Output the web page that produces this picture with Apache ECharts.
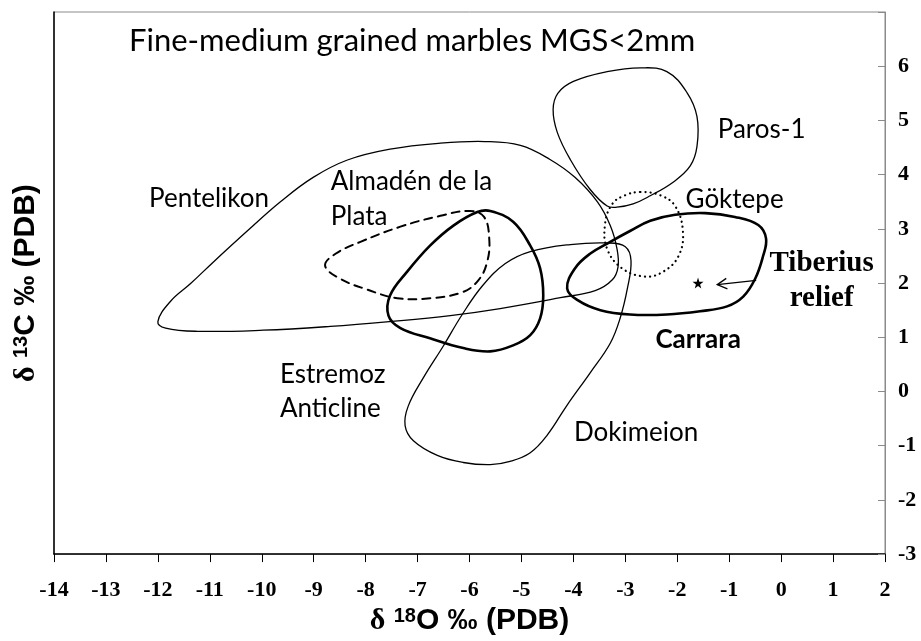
<!DOCTYPE html>
<html>
<head>
<meta charset="utf-8">
<title>Fine-medium grained marbles</title>
<script src="https://cdn.jsdelivr.net/npm/echarts@6/dist/echarts.min.js"></script>
<style>
  html, body { margin: 0; background: #fff; }
  #chart { width: 921px; height: 641px; }
</style>
</head>
<body>
<div id="chart"></div>
<script>
// isotope fields, [δ18O, δ13C] points round each outline
const pentelikon = [[-12.0,1.29],[-11.76,1.66],[-11.37,1.99],[-10.93,2.39],[-10.28,2.96],[-9.64,3.5],[-9.01,3.95],[-8.35,4.27],[-7.53,4.47],[-6.56,4.58],[-5.7,4.61],[-5.02,4.54],[-4.45,4.28],[-3.97,3.95],[-3.54,3.5],[-3.29,3.06],[-3.16,2.63],[-3.14,2.3],[-3.25,2.06],[-3.58,1.86],[-4.25,1.73],[-5.41,1.53],[-6.37,1.4],[-7.53,1.29],[-8.68,1.2],[-9.97,1.13],[-11.24,1.11],[-11.85,1.17]]
const paros = [[-4.0,5.72],[-3.35,5.9],[-2.71,5.97],[-2.2,5.9],[-1.81,5.51],[-1.62,5.07],[-1.62,4.52],[-1.75,4.16],[-2.08,3.86],[-2.52,3.61],[-2.85,3.46],[-3.16,3.4],[-3.35,3.42],[-3.68,3.73],[-4.06,4.28],[-4.31,4.78],[-4.39,5.2],[-4.3,5.5]]
const goktepe = [[-2.71,3.68],[-2.33,3.62],[-2.04,3.42],[-1.89,2.94],[-1.98,2.49],[-2.27,2.21],[-2.62,2.12],[-3.06,2.27],[-3.35,2.63],[-3.39,3.09],[-3.25,3.46],[-3.0,3.62]]
const carrara = [[-4.12,1.9],[-3.97,2.27],[-3.68,2.54],[-3.29,2.76],[-2.91,2.96],[-2.52,3.15],[-2.04,3.26],[-1.46,3.29],[-0.89,3.22],[-0.44,3.07],[-0.29,2.82],[-0.35,2.49],[-0.5,2.08],[-0.73,1.75],[-1.04,1.57],[-1.56,1.48],[-2.2,1.42],[-2.91,1.42],[-3.48,1.5],[-3.91,1.68]]
const estremoz = [[-5.6,3.33],[-5.16,3.13],[-4.83,2.69],[-4.64,2.27],[-4.58,1.77],[-4.64,1.35],[-4.83,1.04],[-5.16,0.85],[-5.6,0.74],[-6.12,0.8],[-6.76,0.98],[-7.33,1.17],[-7.56,1.4],[-7.53,1.77],[-7.2,2.21],[-6.76,2.69],[-6.31,3.06],[-5.85,3.31]]
const almaden = [[-8.78,2.32],[-8.58,2.54],[-8.1,2.76],[-7.33,3.04],[-6.56,3.24],[-5.99,3.33],[-5.72,3.22],[-5.62,2.82],[-5.66,2.39],[-5.83,2.05],[-6.14,1.83],[-6.76,1.72],[-7.39,1.72],[-7.97,1.88],[-8.49,2.08]]
const dokimeion = [[-3.35,2.74],[-3.0,2.67],[-2.89,2.41],[-2.96,1.9],[-3.1,1.35],[-3.29,0.89],[-3.68,0.34],[-4.12,-0.25],[-4.5,-0.8],[-4.83,-1.13],[-5.22,-1.29],[-5.6,-1.35],[-6.12,-1.31],[-6.62,-1.18],[-7.08,-0.91],[-7.24,-0.63],[-7.18,-0.27],[-6.89,0.25],[-6.51,0.83],[-6.14,1.42],[-5.75,1.95],[-5.31,2.36],[-4.83,2.58],[-4.06,2.71]]

// Tiberius relief sample and its pointer (tail, head)
const tiberius = [[-1.6, 2.0]]
const tiberiusArrow = [[-0.48, 2.05], [-1.23, 1.97]]

// field names: [x, y, text]
const fieldLabels = [
  [-12.18, 3.55, 'Pentelikon'],
  [-8.68, 3.88, 'Almadén de la'],
  [-8.68, 3.22, 'Plata'],
  [-1.23, 4.83, 'Paros-1'],
  [-1.85, 3.53, 'Göktepe'],
  [-9.66, 0.32, 'Estremoz'],
  [-9.66, -0.32, 'Anticline'],
  [-4.0, -0.76, 'Dokimeion'],
]
const boldLabels = [[-2.43, 0.96, 'Carrara']]
const serifLabels = [[0.78, 2.36, 'Tiberius'], [0.78, 1.72, 'relief']]

const xMin = -14, xMax = 2
const yMin = -3, yMax = 7

const chart = echarts.init(document.getElementById('chart'))

function outline(name, pts, width, dash) {
  return {
    name,
    type: 'custom',
    yAxisIndex: 1,
    silent: true,
    data: pts,
    encode: { x: 0, y: 1 },
    renderItem: (params, api) => {
      if (params.dataIndex !== 0) return
      return {
        type: 'polygon',
        shape: { points: pts.map((p) => api.coord(p)), smooth: 0.4 },
        style: { fill: null, stroke: '#000', lineWidth: width, lineDash: dash || null, lineCap: 'round' },
      }
    },
  }
}

function labelSeries(list, textStyle) {
  return {
    type: 'scatter',
    yAxisIndex: 1,
    silent: true,
    symbolSize: 1,
    itemStyle: { color: 'rgba(0,0,0,0)', opacity: 1 },
    data: list.map((d) => ({ name: d[2], value: [d[0], d[1]] })),
    label: Object.assign(
      { show: true, position: 'right', distance: 0, formatter: '{b}', color: '#000', opacity: 1, textBorderWidth: 0 },
      textStyle
    ),
  }
}

const sansTitle = { fontFamily: 'Liberation Sans', fontWeight: 'bold', fontSize: 30, color: '#000' }
const titleRich = {
  d: { fontFamily: 'Liberation Serif', fontSize: 30, color: '#000' },
  s: { fontFamily: 'Liberation Sans', fontWeight: 'bold', fontSize: 20, verticalAlign: 'top', color: '#000' },
}

const option = {
  animation: false,
  grid: { left: 54, right: 36, top: 12, bottom: 84, show: true, borderColor: '#8a8a8a', borderWidth: 1 },
  title: {
    text: 'Fine-medium grained marbles MGS<2mm',
    left: 124,
    top: 20,
    textStyle: { fontFamily: 'Lato', fontWeight: 'normal', fontSize: 31, color: '#000' },
  },
  xAxis: {
    type: 'value',
    min: xMin,
    max: xMax,
    interval: 1,
    axisLine: { onZero: false, lineStyle: { color: '#000', width: 1.5 } },
    axisTick: { length: 8, lineStyle: { color: '#000' } },
    axisLabel: { margin: 25, fontFamily: 'Liberation Serif', fontWeight: 'bold', fontSize: 22, color: '#000' },
    splitLine: { show: false },
    name: '{d|δ} {s|18}O ‰ (PDB)',
    nameLocation: 'middle',
    nameGap: 49,
    nameTextStyle: Object.assign({}, sansTitle, { rich: titleRich }),
  },
  yAxis: [
    {
      type: 'value',
      position: 'left',
      min: yMin,
      max: yMax,
      interval: 1,
      axisLine: { show: true, onZero: false, lineStyle: { color: '#000', width: 1.5 } },
      axisTick: { show: false },
      axisLabel: { show: false },
      splitLine: { show: false },
      name: '{d|δ} {s|13}C ‰ (PDB)',
      nameLocation: 'middle',
      nameGap: 13,
      nameRotate: 90,
      nameTextStyle: Object.assign({}, sansTitle, { rich: titleRich }),
    },
    {
      type: 'value',
      position: 'right',
      min: yMin,
      max: yMax,
      interval: 1,
      axisLine: { show: true, onZero: false, lineStyle: { color: '#8a8a8a' } },
      axisTick: { inside: true, length: 7, lineStyle: { color: '#8a8a8a' } },
      axisLabel: {
        margin: 13,
        fontFamily: 'Liberation Serif',
        fontWeight: 'bold',
        fontSize: 22,
        color: '#000',
        formatter: (v) => (v === yMax ? '' : String(v)),
      },
      splitLine: { show: false },
    },
  ],
  series: [
    outline('Pentelikon', pentelikon, 1.3),
    outline('Paros-1', paros, 1.3),
    outline('Dokimeion', dokimeion, 1.3),
    outline('Göktepe', goktepe, 2.2, [0.1, 5]),
    outline('Almadén de la Plata', almaden, 2, [8, 6]),
    outline('Estremoz Anticline', estremoz, 2.6),
    outline('Carrara', carrara, 2.6),
    {
      type: 'scatter',
      yAxisIndex: 1,
      silent: true,
      symbol: 'path://M50,0 L61,35 L98,35 L68,57 L79,91 L50,70 L21,91 L32,57 L2,35 L39,35 Z',
      symbolSize: 11,
      itemStyle: { color: '#000', opacity: 1 },
      data: tiberius,
    },
    {
      type: 'custom',
      yAxisIndex: 1,
      silent: true,
      data: tiberiusArrow,
      encode: { x: 0, y: 1 },
      renderItem: (params, api) => {
        if (params.dataIndex !== 0) return
        const a = api.coord(tiberiusArrow[0])
        const b = api.coord(tiberiusArrow[1])
        const ang = Math.atan2(a[1] - b[1], a[0] - b[0])
        const len = 11
        const w1 = [b[0] + len * Math.cos(ang + 0.5), b[1] + len * Math.sin(ang + 0.5)]
        const w2 = [b[0] + len * Math.cos(ang - 0.5), b[1] + len * Math.sin(ang - 0.5)]
        const st = { stroke: '#000', lineWidth: 1.3, fill: null }
        return {
          type: 'group',
          children: [
            { type: 'line', shape: { x1: a[0], y1: a[1], x2: b[0], y2: b[1] }, style: st },
            { type: 'polyline', shape: { points: [w1, b, w2] }, style: st },
          ],
        }
      },
    },
    labelSeries(fieldLabels, { align: 'left', verticalAlign: 'middle', fontFamily: 'Lato', fontSize: 26 }),
    labelSeries(boldLabels, { align: 'left', verticalAlign: 'middle', fontFamily: 'Lato', fontWeight: 'bold', fontSize: 26 }),
    labelSeries(serifLabels, { position: 'inside', align: 'center', verticalAlign: 'middle', fontFamily: 'Liberation Serif', fontWeight: 'bold', fontSize: 29 }),
  ],
}

chart.setOption(option)

window.addEventListener('resize', () => {
  chart.resize()
})
</script>
</body>
</html>
